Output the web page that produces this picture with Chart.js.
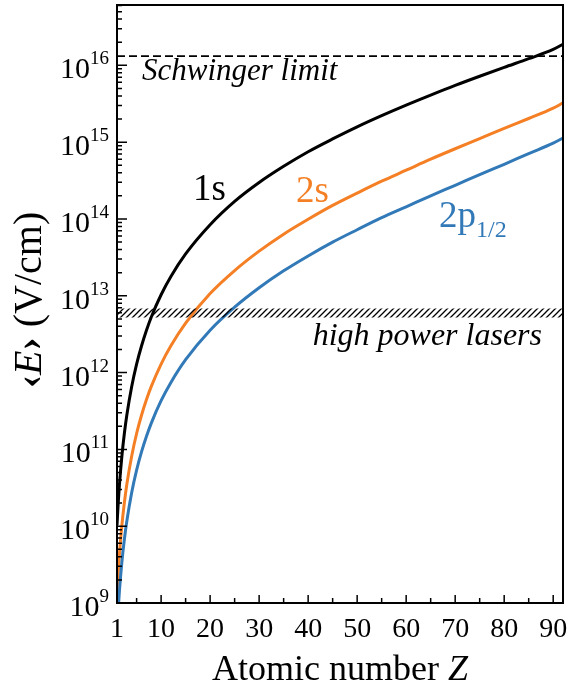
<!DOCTYPE html>
<html>
<head>
<meta charset="utf-8">
<script src="https://cdn.jsdelivr.net/npm/chart.js@4.4.1/dist/chart.umd.min.js"></script>
<style>
html, body { margin: 0; padding: 0; background: #fff; }
#wrap { width: 569px; height: 688px; }
</style>
</head>
<body>
<div id="wrap"><canvas id="chart" width="569" height="688"></canvas></div>
<script>
const atomicNumbers = [1, 1.25, 1.5, 2, 2.5, 3, 4, 5, 6, 7, 8, 10, 12, 15, 20, 25, 30, 35, 40, 45, 50, 55, 60, 65, 70, 75, 80, 85, 90, 92];
// Mean electric field <E> in V/cm for each state
const field1s = [1.03e10, 2.01e10, 3.48e10, 8.2e10, 1.61e11, 2.78e11, 6.6e11, 1.29e12, 2.22e12, 3.53e12, 5.3e12, 1.03e13, 1.78e13, 3.5e13, 8.4e13, 1.69e14, 2.98e14, 4.84e14, 7.5e14, 1.10e15, 1.58e15, 2.21e15, 3.03e15, 4.09e15, 5.47e15, 7.2e15, 9.4e15, 1.22e16, 1.61e16, 1.88e16];
const field2s = [1.29e9, 2.52e9, 4.35e9, 1.03e10, 2.01e10, 3.48e10, 8.2e10, 1.61e11, 2.78e11, 4.42e11, 6.6e11, 1.29e12, 2.23e12, 4.4e12, 1.07e13, 2.13e13, 3.81e13, 6.34e13, 9.9e13, 1.50e14, 2.17e14, 3.10e14, 4.31e14, 6.0e14, 8.2e14, 1.11e15, 1.51e15, 2.03e15, 2.77e15, 3.24e15];
const field2p = [4.3e8, 8.4e8, 1.45e9, 3.44e9, 6.7e9, 1.16e10, 2.75e10, 5.37e10, 9.27e10, 1.47e11, 2.20e11, 4.30e11, 7.43e11, 1.47e12, 3.56e12, 7.1e12, 1.27e13, 2.11e13, 3.30e13, 4.99e13, 7.24e13, 1.04e14, 1.44e14, 2.00e14, 2.74e14, 3.78e14, 5.15e14, 7.1e14, 9.7e14, 1.13e15];

// Reference levels
const schwingerLimit = 1.32e16;
const laserBand = [5.2e12, 6.8e12];

// Axis ticks
const xTickLabels = [1, 10, 20, 30, 40, 50, 60, 70, 80, 90];
const xMinorTicks = [5, 15, 25, 35, 45, 55, 65, 75, 85];
const yDecades = [9, 10, 11, 12, 13, 14, 15, 16];

const serif = '"Liberation Serif", "DejaVu Serif", serif';

function toPoints(ys) {
    return atomicNumbers.map(function (z, i) { return { x: z, y: ys[i] }; });
}

function flatLine(v) {
    return [{ x: 1, y: v }, { x: 92, y: v }];
}

// diagonal hatch used for the laser band
function hatchPattern() {
    var c = document.createElement('canvas');
    c.width = 6; c.height = 6;
    var g = c.getContext('2d');
    g.strokeStyle = '#000';
    g.lineWidth = 1.3;
    g.beginPath();
    g.moveTo(0, 6); g.lineTo(6, 0);
    g.moveTo(-1, 1); g.lineTo(1, -1);
    g.moveTo(5, 7); g.lineTo(7, 5);
    g.stroke();
    return g.createPattern(c, 'repeat');
}

/*
* Draws the frame, inward ticks, tick labels, axis titles and the text annotations
*/
const frameAndText = {
    id: 'frameAndText',
    afterDraw(chart) {
        const ctx = chart.ctx;
        const a = chart.chartArea;
        const xs = chart.scales.x;
        const ys = chart.scales.y;
        ctx.save();

        // tick marks
        ctx.strokeStyle = '#000';
        ctx.lineWidth = 1.5;
        ctx.beginPath();
        xTickLabels.concat(xMinorTicks).forEach(function (v) {
            if (v == 1) return;
            var px = xs.getPixelForValue(v);
            var len = xMinorTicks.indexOf(v) >= 0 ? 5 : 8;
            ctx.moveTo(px, a.bottom);
            ctx.lineTo(px, a.bottom - len);
        });
        yDecades.forEach(function (e) {
            for (var m = 1; m < 10; m++) {
                var v = m * Math.pow(10, e);
                if (v > ys.max) break;
                var py = ys.getPixelForValue(v);
                var len = m == 1 ? 10 : 5;
                ctx.moveTo(a.left, py);
                ctx.lineTo(a.left + len, py);
            }
        });
        ctx.stroke();

        // frame
        ctx.lineWidth = 2;
        ctx.strokeRect(a.left, a.top, a.right - a.left, a.bottom - a.top);

        ctx.fillStyle = '#000';
        ctx.textBaseline = 'alphabetic';

        // x tick labels
        ctx.font = '28px ' + serif;
        ctx.textAlign = 'center';
        xTickLabels.forEach(function (v) {
            ctx.fillText(String(v), xs.getPixelForValue(v), a.bottom + 34);
        });

        // y tick labels as 10^n
        ctx.textAlign = 'left';
        yDecades.forEach(function (e) {
            var py = ys.getPixelForValue(Math.pow(10, e));
            ctx.font = '30px ' + serif;
            var w1 = ctx.measureText('10').width;
            ctx.font = '19px ' + serif;
            var w2 = ctx.measureText(String(e)).width;
            var x0 = 109 - w1 - w2;
            ctx.font = '30px ' + serif;
            ctx.fillText('10', x0, py + 13);
            ctx.font = '19px ' + serif;
            ctx.fillText(String(e), x0 + w1, py - 1);
        });

        // x title
        var cx = (a.left + a.right) / 2;
        ctx.font = '36px ' + serif;
        var t1 = 'Atomic number ';
        var wt1 = ctx.measureText(t1).width;
        ctx.font = 'italic 36px ' + serif;
        var wt2 = ctx.measureText('Z').width;
        var sx = cx - (wt1 + wt2) / 2;
        ctx.font = '36px ' + serif;
        ctx.fillText(t1, sx, 680);
        ctx.font = 'italic 36px ' + serif;
        ctx.fillText('Z', sx + wt1, 680);

        // y title, rotated
        var parts = [
            ['bold 40px ', '\u2039'],
            ['italic 40px ', 'E'],
            ['bold 40px ', '\u203A'],
            ['40px ', ' (V/cm)']
        ];
        var total = 0;
        parts.forEach(function (p) { ctx.font = p[0] + serif; total += ctx.measureText(p[1]).width; });
        ctx.save();
        ctx.translate(41, (a.top + a.bottom) / 2 - 4);
        ctx.rotate(-Math.PI / 2);
        var px = -total / 2;
        parts.forEach(function (p) {
            ctx.font = p[0] + serif;
            ctx.fillText(p[1], px, 0);
            px += ctx.measureText(p[1]).width;
        });
        ctx.restore();

        // annotations
        ctx.font = 'italic 31px ' + serif;
        ctx.textAlign = 'left';
        ctx.fillText('Schwinger limit', 142, 80);
        ctx.textAlign = 'right';
        ctx.font = 'italic 32px ' + serif;
        ctx.fillText('high power lasers', 542, 345);

        // curve labels
        ctx.textAlign = 'left';
        ctx.font = '37px ' + serif;
        ctx.fillStyle = '#000';
        ctx.fillText('1s', 193, 200);
        ctx.fillStyle = '#f47f24';
        ctx.fillText('2s', 296, 202);
        ctx.fillStyle = '#3279b8';
        ctx.fillText('2p', 439, 227);
        var w2p = ctx.measureText('2p').width;
        ctx.font = '24px ' + serif;
        ctx.fillText('1/2', 439 + w2p, 237);

        ctx.restore();
    }
};

new Chart(document.getElementById('chart'), {
    type: 'line',
    data: {
        datasets: [
            {
                label: 'laser band low',
                data: flatLine(laserBand[0]),
                borderWidth: 0,
                pointRadius: 0,
                fill: false
            },
            {
                label: 'high power lasers',
                data: flatLine(laserBand[1]),
                borderWidth: 0,
                pointRadius: 0,
                fill: '-1',
                backgroundColor: hatchPattern()
            },
            {
                label: 'Schwinger limit',
                data: flatLine(schwingerLimit),
                borderColor: '#000',
                borderWidth: 1.8,
                borderDash: [8, 4],
                pointRadius: 0,
                fill: false
            },
            {
                label: '2p1/2',
                data: toPoints(field2p),
                borderColor: '#3279b8',
                borderWidth: 3,
                pointRadius: 0,
                cubicInterpolationMode: 'monotone',
                fill: false
            },
            {
                label: '2s',
                data: toPoints(field2s),
                borderColor: '#f47f24',
                borderWidth: 3,
                pointRadius: 0,
                cubicInterpolationMode: 'monotone',
                fill: false
            },
            {
                label: '1s',
                data: toPoints(field1s),
                borderColor: '#000',
                borderWidth: 3,
                pointRadius: 0,
                cubicInterpolationMode: 'monotone',
                fill: false
            }
        ]
    },
    options: {
        responsive: false,
        animation: false,
        layout: { padding: { left: 117, right: 6, top: 5, bottom: 85 } },
        plugins: {
            legend: { display: false },
            tooltip: { enabled: false }
        },
        scales: {
            x: { type: 'linear', min: 1, max: 92, display: false },
            y: { type: 'logarithmic', min: 1e9, max: 6.1e16, display: false }
        }
    },
    plugins: [frameAndText]
});
</script>
</body>
</html>
